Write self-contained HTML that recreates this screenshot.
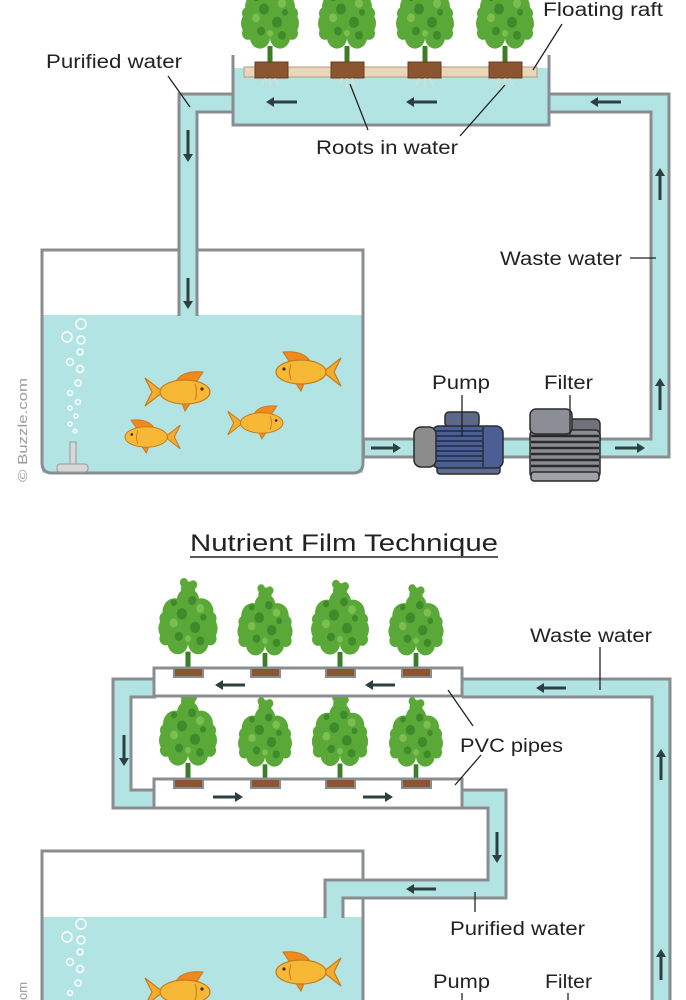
<!DOCTYPE html>
<html><head><meta charset="utf-8"><style>
html,body{margin:0;padding:0;background:#fff;}
svg{display:block;}
text{font-family:"Liberation Sans",Arial,sans-serif;fill:#222;}
</style></head><body>
<svg width="686" height="1000" viewBox="0 0 686 1000" xmlns="http://www.w3.org/2000/svg">
<defs>
<g id="plant">
  <rect x="-2.5" y="-18" width="5" height="18" fill="#3d7d28"/>
  <g transform="scale(1,1.1)">
  <g fill="#5aa838">
    <circle cx="0" cy="-62" r="11"/><circle cx="-13" cy="-52" r="12"/><circle cx="13" cy="-52" r="12"/>
    <circle cx="-17" cy="-37" r="12"/><circle cx="17" cy="-37" r="12"/><circle cx="0" cy="-42" r="15"/>
    <circle cx="-10" cy="-24" r="10"/><circle cx="10" cy="-24" r="10"/><circle cx="0" cy="-72" r="7"/>
    <circle cx="-22" cy="-46" r="6"/><circle cx="22" cy="-46" r="6"/><circle cx="-22" cy="-28" r="6"/><circle cx="22" cy="-28" r="6"/>
    <circle cx="-4" cy="-78" r="4"/><circle cx="5" cy="-76" r="4"/>
  </g>
  <g fill="#3f8a2a">
    <circle cx="-6" cy="-50" r="5"/><circle cx="7" cy="-38" r="5"/><circle cx="-9" cy="-30" r="4"/><circle cx="4" cy="-62" r="4"/><circle cx="12" cy="-26" r="4"/><circle cx="-14" cy="-60" r="3"/><circle cx="15" cy="-47" r="3"/>
  </g>
  <g fill="#7cbf50">
    <circle cx="-14" cy="-42" r="4"/><circle cx="12" cy="-55" r="4"/><circle cx="0" cy="-28" r="3"/>
  </g>
  </g>
</g>
<g id="fish">
  <polygon points="-38,-14 -20,0 -38,14 -31,0" fill="#f5ad2e" stroke="#c97a1a" stroke-width="1.2"/>
  <path d="M-8,-9 Q-2,-22 20,-20 L12,-8 Z" fill="#f08a1e" stroke="#c97a1a" stroke-width="1"/>
  <path d="M-2,9 L2,19 L8,10 Z" fill="#f08a1e" stroke="#c97a1a" stroke-width="1"/>
  <ellipse cx="2" cy="0" rx="25" ry="12" fill="#f7b935" stroke="#c97a1a" stroke-width="1.2"/>
  <path d="M12,-8 Q15,0 12,8" fill="none" stroke="#c97a1a" stroke-width="1"/>
  <circle cx="19" cy="-3" r="1.6" fill="#4a2a10"/>
</g>
</defs>

<!-- ===== TOP SECTION ===== -->
<rect x="233" y="68" width="316" height="57" fill="#b3e4e4"/>
<use href="#plant" x="270" y="64"/><use href="#plant" x="347" y="64"/><use href="#plant" x="425" y="64"/><use href="#plant" x="505" y="64"/>
<rect x="244" y="67" width="293" height="10" fill="#ead6bb" stroke="#b89a78" stroke-width="1"/>
<g fill="#8a5530" stroke="#6b3f20" stroke-width="1">
<rect x="255" y="62" width="33" height="16"/><rect x="331" y="62" width="33" height="16"/><rect x="408" y="62" width="33" height="16"/><rect x="489" y="62" width="33" height="16"/>
</g>
<g stroke="#e9dcc2" stroke-width="1" fill="none">
<path d="M265,78 l-3,8 M270,78 l0,9 M275,78 l3,8 M342,78 l-3,8 M347,78 l0,9 M352,78 l3,8 M419,78 l-3,8 M425,78 l0,9 M430,78 l3,8 M499,78 l-3,8 M505,78 l0,9 M510,78 l3,8"/>
</g>
<rect x="42" y="315" width="321" height="158" rx="0" fill="#b3e4e4"/>
<path d="M42,250 H363 V463 Q363,473 353,473 H52 Q42,473 42,463 Z" fill="none" stroke="#8a8d90" stroke-width="3"/>
<g fill="none" stroke-linejoin="miter">
<path d="M233,103 H188 V316" stroke="#8a8d90" stroke-width="21"/>
<path d="M233,103 H188 V316" stroke="#b3e4e4" stroke-width="15"/>
<path d="M549,103 H660 V448 H363" stroke="#8a8d90" stroke-width="21"/>
<path d="M549,103 H660 V448 H365" stroke="#b3e4e4" stroke-width="15"/>
</g>
<path d="M233,55 V125 H549 V55" fill="none" stroke="#8a8d90" stroke-width="3"/>
<g stroke="#2d3f3f" stroke-width="3" fill="#2d3f3f">
<line x1="297" y1="102" x2="272" y2="102"/><polygon points="266,102 274,97 274,107" stroke="none"/>
<line x1="437" y1="102" x2="412" y2="102"/><polygon points="406,102 414,97 414,107" stroke="none"/>
<line x1="621" y1="102" x2="596" y2="102"/><polygon points="590,102 598,97 598,107" stroke="none"/>
<line x1="188" y1="130" x2="188" y2="155"/><polygon points="188,162 183,154 193,154" stroke="none"/>
<line x1="188" y1="278" x2="188" y2="302"/><polygon points="188,309 183,301 193,301" stroke="none"/>
<line x1="371" y1="448" x2="395" y2="448"/><polygon points="401,448 393,443 393,453" stroke="none"/>
<line x1="615" y1="448" x2="639" y2="448"/><polygon points="645,448 637,443 637,453" stroke="none"/>
<line x1="660" y1="200" x2="660" y2="175"/><polygon points="660,168 655,176 665,176" stroke="none"/>
<line x1="660" y1="410" x2="660" y2="385"/><polygon points="660,378 655,386 665,386" stroke="none"/>
</g>
<g fill="none" stroke="#ffffff" stroke-width="1.5">
<circle cx="81" cy="324" r="5"/><circle cx="67" cy="337" r="5"/><circle cx="81" cy="340" r="4"/><circle cx="80" cy="352" r="3"/><circle cx="70" cy="362" r="3.5"/><circle cx="80" cy="369" r="3.5"/><circle cx="78" cy="383" r="3"/><circle cx="70" cy="393" r="2.5"/><circle cx="78" cy="402" r="2.5"/><circle cx="70" cy="408" r="2"/><circle cx="76" cy="416" r="2"/><circle cx="70" cy="424" r="2"/><circle cx="75" cy="431" r="1.8"/>
</g>
<rect x="70" y="442" width="6" height="23" fill="#d8d8d8" stroke="#999" stroke-width="1"/>
<rect x="57" y="464" width="31" height="8" rx="3" fill="#d8d8d8" stroke="#999" stroke-width="1"/>
<use href="#fish" transform="translate(183,392)"/>
<use href="#fish" transform="translate(303,372) scale(-1,1)"/>
<use href="#fish" transform="translate(148,437) scale(-0.85,0.85)"/>
<use href="#fish" transform="translate(260,423) scale(0.85)"/>
<rect x="437" y="465" width="63" height="9" rx="3" fill="#5d6c8c" stroke="#2b2b2b" stroke-width="1.5"/>
<rect x="445" y="412" width="34" height="15" rx="4" fill="#5b6886" stroke="#2b2b2b" stroke-width="1.5"/>
<rect x="432" y="426" width="71" height="42" rx="7" fill="#4b5f94" stroke="#2b2b2b" stroke-width="1.5"/>
<g stroke="#1f2a45" stroke-width="1.5">
<line x1="436" y1="431" x2="482" y2="431"/><line x1="436" y1="436" x2="482" y2="436"/><line x1="436" y1="441" x2="482" y2="441"/><line x1="436" y1="446" x2="482" y2="446"/><line x1="436" y1="451" x2="482" y2="451"/><line x1="436" y1="456" x2="482" y2="456"/><line x1="436" y1="461" x2="482" y2="461"/>
</g>
<line x1="483" y1="427" x2="483" y2="467" stroke="#2b2b2b" stroke-width="1.5"/>
<rect x="414" y="427" width="22" height="40" rx="7" fill="#8c8c8c" stroke="#2b2b2b" stroke-width="1.5"/>
<rect x="558" y="419" width="42" height="26" rx="5" fill="#6f7278" stroke="#2b2b2b" stroke-width="1.5"/>
<rect x="530" y="430" width="70" height="48" rx="5" fill="#8a8c92" stroke="#2b2b2b" stroke-width="1.5"/>
<g stroke="#2b2b2b" stroke-width="2.5">
<line x1="531" y1="436" x2="599" y2="436"/><line x1="531" y1="442" x2="599" y2="442"/><line x1="531" y1="448" x2="599" y2="448"/><line x1="531" y1="454" x2="599" y2="454"/><line x1="531" y1="460" x2="599" y2="460"/><line x1="531" y1="466" x2="599" y2="466"/>
</g>
<rect x="531" y="472" width="68" height="9" rx="3" fill="#a0a2a8" stroke="#2b2b2b" stroke-width="1.5"/>
<rect x="530" y="409" width="42" height="25" rx="6" fill="#8c8e95" stroke="#2b2b2b" stroke-width="1.5"/>
<g stroke="#222" stroke-width="1.3" fill="none">
<line x1="168" y1="76" x2="190" y2="107"/>
<line x1="562" y1="24" x2="533" y2="70"/>
<line x1="350" y1="84" x2="368" y2="130"/>
<line x1="505" y1="85" x2="460" y2="136"/>
<line x1="630" y1="258" x2="656" y2="258"/>
<line x1="462" y1="395" x2="462" y2="437"/>
<line x1="570" y1="395" x2="570" y2="437"/>
</g>
<text x="46" y="68" font-size="19" textLength="136" lengthAdjust="spacingAndGlyphs">Purified water</text>
<text x="543" y="16" font-size="19" textLength="120" lengthAdjust="spacingAndGlyphs">Floating raft</text>
<text x="316" y="154" font-size="19" textLength="142" lengthAdjust="spacingAndGlyphs">Roots in water</text>
<text x="500" y="265" font-size="19" textLength="122" lengthAdjust="spacingAndGlyphs">Waste water</text>
<text x="432" y="389" font-size="19" textLength="58" lengthAdjust="spacingAndGlyphs">Pump</text>
<text x="544" y="389" font-size="19" textLength="49" lengthAdjust="spacingAndGlyphs">Filter</text>
<text transform="translate(27,482) rotate(-90)" font-size="13" style="fill:#9a9a9a" textLength="104" lengthAdjust="spacingAndGlyphs">© Buzzle.com</text>

<!-- ===== BOTTOM SECTION ===== -->
<text x="190" y="551" font-size="24" textLength="308" lengthAdjust="spacingAndGlyphs">Nutrient Film Technique</text>
<line x1="190" y1="557" x2="498" y2="557" stroke="#222" stroke-width="1.5"/>
<rect x="42" y="917" width="321" height="83" fill="#b3e4e4"/>
<path d="M42,1002 V851 H363 V1002" fill="none" stroke="#8a8d90" stroke-width="3"/>
<g fill="none" stroke-linejoin="miter">
<path d="M462,688 H661 V1002" stroke="#8a8d90" stroke-width="21"/>
<path d="M462,688 H661 V1002" stroke="#b3e4e4" stroke-width="15"/>
<path d="M156,688 H122 V799 H156" stroke="#8a8d90" stroke-width="21"/>
<path d="M156,688 H122 V799 H156" stroke="#b3e4e4" stroke-width="15"/>
<path d="M460,799 H497 V889 H334 V918" stroke="#8a8d90" stroke-width="21"/>
<path d="M460,799 H497 V889 H334 V919" stroke="#b3e4e4" stroke-width="15"/>
</g>
<use href="#plant" transform="translate(188,670) scale(1.02)"/><use href="#plant" transform="translate(265,670) scale(0.95)"/><use href="#plant" transform="translate(340,670) scale(1)"/><use href="#plant" transform="translate(416,670) scale(0.95)"/>
<use href="#plant" transform="translate(188,781) scale(1)"/><use href="#plant" transform="translate(265,781) scale(0.93)"/><use href="#plant" transform="translate(340,781) scale(0.97)"/><use href="#plant" transform="translate(416,781) scale(0.93)"/>
<rect x="154" y="668" width="308" height="28" fill="#fff" stroke="#8a8d90" stroke-width="3"/>
<rect x="154" y="779" width="308" height="29" fill="#fff" stroke="#8a8d90" stroke-width="3"/>
<g fill="#8a5530" stroke="#8a8d90" stroke-width="2">
<rect x="174" y="668" width="29" height="9"/><rect x="251" y="668" width="29" height="9"/><rect x="326" y="668" width="29" height="9"/><rect x="402" y="668" width="29" height="9"/>
<rect x="174" y="779" width="29" height="9"/><rect x="251" y="779" width="29" height="9"/><rect x="326" y="779" width="29" height="9"/><rect x="402" y="779" width="29" height="9"/>
</g>
<g stroke="#2d3f3f" stroke-width="3" fill="#2d3f3f">
<line x1="245" y1="685" x2="221" y2="685"/><polygon points="215,685 223,680 223,690" stroke="none"/>
<line x1="395" y1="685" x2="371" y2="685"/><polygon points="365,685 373,680 373,690" stroke="none"/>
<line x1="566" y1="688" x2="542" y2="688"/><polygon points="536,688 544,683 544,693" stroke="none"/>
<line x1="124" y1="735" x2="124" y2="759"/><polygon points="124,766 119,758 129,758" stroke="none"/>
<line x1="213" y1="797" x2="237" y2="797"/><polygon points="243,797 235,792 235,802" stroke="none"/>
<line x1="363" y1="797" x2="387" y2="797"/><polygon points="393,797 385,792 385,802" stroke="none"/>
<line x1="497" y1="832" x2="497" y2="856"/><polygon points="497,863 492,855 502,855" stroke="none"/>
<line x1="436" y1="889" x2="412" y2="889"/><polygon points="406,889 414,884 414,894" stroke="none"/>
<line x1="661" y1="780" x2="661" y2="756"/><polygon points="661,749 656,757 666,757" stroke="none"/>
<line x1="661" y1="980" x2="661" y2="956"/><polygon points="661,949 656,957 666,957" stroke="none"/>
</g>
<g fill="none" stroke="#ffffff" stroke-width="1.5">
<circle cx="81" cy="924" r="5"/><circle cx="67" cy="937" r="5"/><circle cx="81" cy="940" r="4"/><circle cx="80" cy="952" r="3"/><circle cx="70" cy="962" r="3.5"/><circle cx="80" cy="969" r="3.5"/><circle cx="78" cy="983" r="3"/><circle cx="70" cy="993" r="2.5"/>
</g>
<use href="#fish" transform="translate(183,992)"/>
<use href="#fish" transform="translate(303,972) scale(-1,1)"/>
<g stroke="#222" stroke-width="1.3" fill="none">
<line x1="600" y1="647" x2="600" y2="690"/>
<line x1="448" y1="690" x2="473" y2="726"/>
<line x1="455" y1="785" x2="481" y2="755"/>
<line x1="475" y1="892" x2="475" y2="912"/>
<line x1="462" y1="993" x2="462" y2="1000"/>
<line x1="568" y1="993" x2="568" y2="1000"/>
</g>
<text x="530" y="642" font-size="19" textLength="122" lengthAdjust="spacingAndGlyphs">Waste water</text>
<text x="460" y="752" font-size="19" textLength="103" lengthAdjust="spacingAndGlyphs">PVC pipes</text>
<text x="450" y="935" font-size="19" textLength="135" lengthAdjust="spacingAndGlyphs">Purified water</text>
<text x="433" y="988" font-size="19" textLength="57" lengthAdjust="spacingAndGlyphs">Pump</text>
<text x="545" y="988" font-size="19" textLength="47" lengthAdjust="spacingAndGlyphs">Filter</text>
<text transform="translate(27,1000) rotate(-90)" font-size="13" style="fill:#9a9a9a">om</text>
</svg>
</body></html>
